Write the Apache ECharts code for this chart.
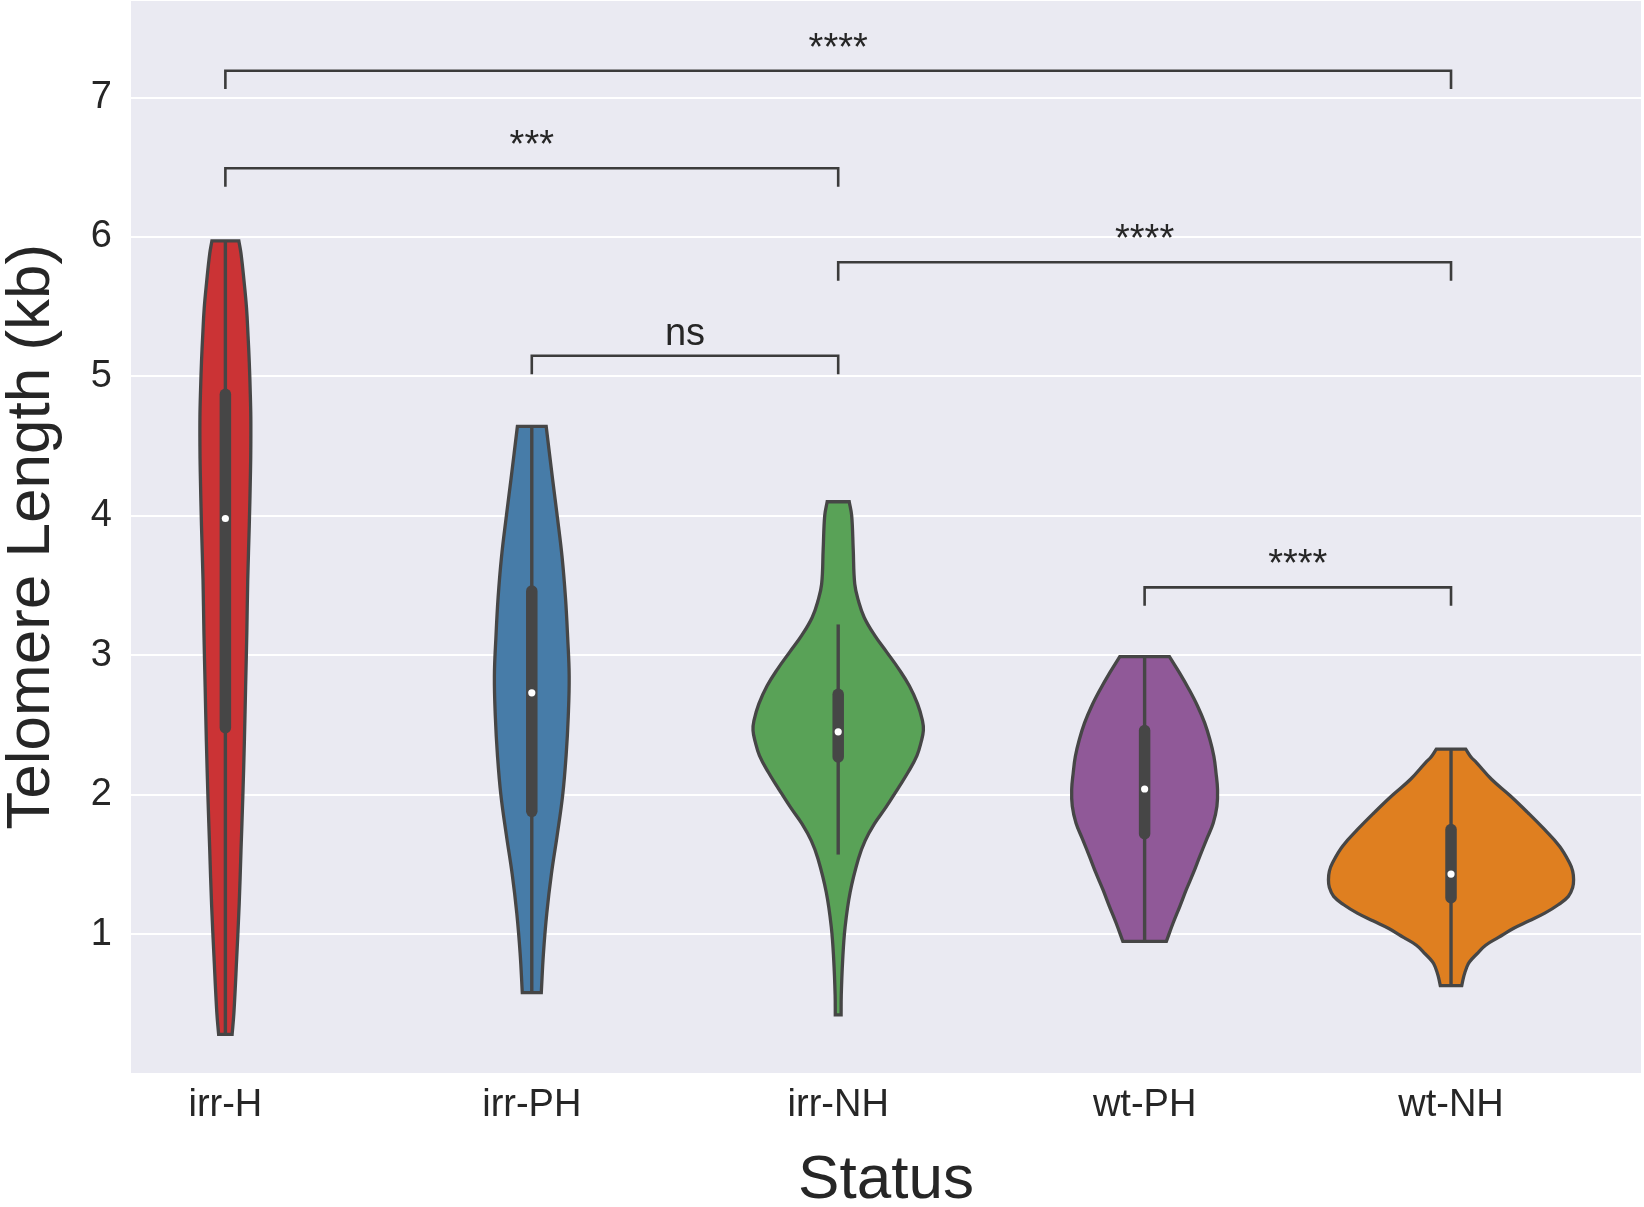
<!DOCTYPE html>
<html>
<head>
<meta charset="utf-8">
<title>Telomere Length by Status</title>
<script src="https://cdn.jsdelivr.net/npm/echarts@6/dist/echarts.min.js"></script>
<style>
  html, body { margin: 0; padding: 0; background: #ffffff; }
  #chart { width: 1644px; height: 1207px; }
</style>
</head>
<body>
<div id="chart"></div>
<script>
// ---- data ----
const categories = ['irr-H', 'irr-PH', 'irr-NH', 'wt-PH', 'wt-NH'];

// Violin outlines: [telomere length (kb), half width in category units], bottom to top
const profileIrrH = [
  [0.28, 0.022], [0.44, 0.028], [0.83, 0.037], [1.21, 0.045], [1.60, 0.051],
  [1.99, 0.057], [2.38, 0.062], [2.77, 0.066], [3.16, 0.070], [3.54, 0.073],
  [3.93, 0.078], [4.32, 0.082], [4.50, 0.083], [4.71, 0.083], [4.90, 0.081],
  [5.10, 0.078], [5.29, 0.074], [5.49, 0.069], [5.68, 0.061], [5.88, 0.051],
  [5.97, 0.044]
];
const profileIrrPH = [
  [0.58, 0.031], [0.86, 0.038], [1.15, 0.049], [1.43, 0.064], [1.71, 0.083],
  [2.00, 0.101], [2.28, 0.112], [2.56, 0.119], [2.85, 0.122], [3.13, 0.117],
  [3.41, 0.110], [3.70, 0.099], [3.98, 0.084], [4.26, 0.068], [4.64, 0.047]
];
const profileIrrNH = [
  [0.42, 0.0095], [0.56, 0.010], [0.81, 0.0145], [1.05, 0.0225], [1.30, 0.039],
  [1.54, 0.066], [1.67, 0.088], [1.79, 0.118], [1.91, 0.156], [2.04, 0.194],
  [2.16, 0.228], [2.28, 0.257], [2.38, 0.271], [2.46, 0.278], [2.53, 0.275],
  [2.65, 0.259], [2.78, 0.232], [2.90, 0.198], [3.02, 0.159], [3.145, 0.118],
  [3.27, 0.085], [3.39, 0.066], [3.51, 0.054], [3.76, 0.049], [4.00, 0.044],
  [4.10, 0.036]
];
const profileWtPH = [
  [0.947, 0.071], [1.079, 0.093], [1.199, 0.115], [1.318, 0.136], [1.438, 0.159],
  [1.557, 0.180], [1.677, 0.202], [1.797, 0.224], [1.916, 0.236], [2.036, 0.238],
  [2.156, 0.233], [2.275, 0.226], [2.395, 0.213], [2.514, 0.196], [2.634, 0.173],
  [2.754, 0.145], [2.873, 0.114], [2.99, 0.081]
];
const profileWtNH = [
  [0.63, 0.035], [0.70, 0.042], [0.76, 0.051], [0.80, 0.060], [0.857, 0.084],
  [0.92, 0.113], [0.976, 0.155], [1.04, 0.203], [1.095, 0.255], [1.15, 0.306],
  [1.21, 0.350], [1.27, 0.383], [1.333, 0.397], [1.39, 0.400], [1.452, 0.397],
  [1.51, 0.387], [1.63, 0.354], [1.75, 0.305], [1.87, 0.251], [1.99, 0.194],
  [2.11, 0.132], [2.23, 0.083], [2.27, 0.065], [2.326, 0.048]
];
const profiles = [profileIrrH, profileIrrPH, profileIrrNH, profileWtPH, profileWtNH];

// Inner box statistics (kb)
const whiskerLow  = [0.28, 0.58, 1.57, 0.947, 0.63];
const quartile1   = [2.48, 1.88, 2.27, 1.72, 1.26];
const medians     = [3.98, 2.73, 2.45, 2.04, 1.43];
const quartile3   = [4.87, 3.46, 2.72, 2.46, 1.75];
const whiskerHigh = [5.97, 4.64, 3.22, 2.99, 2.326];

// Pairwise significance annotations
const pairFrom   = [0, 0, 2, 1, 3];
const pairTo     = [4, 2, 4, 2, 4];
const pairLevel  = [7.191, 6.491, 5.817, 5.147, 3.486];
const pairLabels = ['****', '***', '****', 'ns', '****'];

const yTickValues = [1, 2, 3, 4, 5, 6, 7];

// ---- styling ----
const palette = ['#cb3335', '#477ca8', '#59a257', '#905998', '#df7f20'];
const lineGray = '#464646';
const textGray = '#262626';
const fontFamily = '"Liberation Sans", Arial, Helvetica, sans-serif';

const chart = echarts.init(document.getElementById('chart'), null, { renderer: 'canvas' });

function renderViolin(params, api) {
  const i = params.dataIndex;
  const prof = profiles[i];
  const left = prof.map(p => api.coord([i - p[1], p[0]]));
  const right = prof.slice().reverse().map(p => api.coord([i + p[1], p[0]]));
  const n = left.length;
  // corners are repeated so the flat ends stay straight when smoothed
  const pts = [left[0]].concat(left, [left[n - 1], right[0]], right, [right[n - 1]]);

  const wLo = api.coord([i, whiskerLow[i]]);
  const wHi = api.coord([i, whiskerHigh[i]]);
  const q1 = api.coord([i, quartile1[i]]);
  const q3 = api.coord([i, quartile3[i]]);
  const md = api.coord([i, medians[i]]);

  return {
    type: 'group',
    children: [
      {
        type: 'polygon',
        shape: { points: pts, smooth: 0.4 },
        style: { fill: palette[i], stroke: lineGray, lineWidth: 3.3, lineJoin: 'miter' }
      },
      {
        type: 'line',
        shape: { x1: wLo[0], y1: wLo[1], x2: wHi[0], y2: wHi[1] },
        style: { stroke: lineGray, lineWidth: 3.4 }
      },
      {
        type: 'line',
        shape: { x1: q1[0], y1: q1[1], x2: q3[0], y2: q3[1] },
        style: { stroke: lineGray, lineWidth: 11.5, lineCap: 'round' }
      },
      {
        type: 'circle',
        shape: { cx: md[0], cy: md[1], r: 3.6 },
        style: { fill: '#ffffff' }
      }
    ]
  };
}

const tickDrop = 0.132;

function renderBracket(params, api) {
  const k = params.dataIndex;
  const a = api.coord([pairFrom[k], pairLevel[k]]);
  const b = api.coord([pairTo[k], pairLevel[k]]);
  const aLow = api.coord([pairFrom[k], pairLevel[k] - tickDrop]);
  const bLow = api.coord([pairTo[k], pairLevel[k] - tickDrop]);
  return {
    type: 'group',
    children: [
      {
        type: 'polyline',
        shape: { points: [aLow, a, b, bLow] },
        style: { stroke: '#3c3c3c', lineWidth: 2.6, fill: null, lineJoin: 'miter' }
      },
      {
        type: 'text',
        style: {
          text: pairLabels[k],
          x: (a[0] + b[0]) / 2,
          y: a[1] - 21.5,
          align: 'center',
          verticalAlign: 'middle',
          font: '38px ' + fontFamily,
          fill: textGray
        }
      }
    ]
  };
}

const option = {
  animation: false,
  backgroundColor: '#ffffff',
  grid: {
    left: 131, right: 3, top: 0, bottom: 133.5,
    containLabel: false,
    outerBoundsMode: 'none',
    show: true, backgroundColor: '#eaeaf2', borderWidth: 0
  },
  xAxis: {
    type: 'value',
    min: -0.308,
    max: 4.62,
    axisLine: { show: false },
    axisTick: { show: false },
    splitLine: { show: false },
    axisLabel: {
      customValues: [0, 1, 2, 3, 4],
      formatter: v => categories[Math.round(v)],
      fontSize: 38,
      fontFamily: fontFamily,
      color: textGray,
      margin: 13
    },
    name: 'Status',
    nameLocation: 'middle',
    nameGap: 76,
    nameTextStyle: { fontSize: 62, fontFamily: fontFamily, color: textGray }
  },
  yAxis: {
    type: 'value',
    min: 0,
    max: 7.698,
    interval: 1,
    axisLine: { show: false },
    axisTick: { show: false },
    splitLine: { show: true, lineStyle: { color: '#ffffff', width: 1.8 } },
    axisLabel: {
      formatter: v => (yTickValues.indexOf(v) >= 0 ? String(v) : ''),
      fontSize: 38,
      fontFamily: fontFamily,
      color: textGray,
      margin: 19
    },
    name: 'Telomere Length (kb)',
    nameLocation: 'middle',
    nameGap: 68,
    nameTextStyle: { fontSize: 62, fontFamily: fontFamily, color: textGray }
  },
  series: [
    {
      type: 'custom',
      name: 'violins',
      renderItem: renderViolin,
      data: categories.map((c, i) => [i, medians[i]]),
      encode: { x: 0, y: 1 },
      silent: true,
      z: 2
    },
    {
      type: 'custom',
      name: 'comparisons',
      renderItem: renderBracket,
      data: pairLabels.map((l, k) => [(pairFrom[k] + pairTo[k]) / 2, pairLevel[k]]),
      encode: { x: 0, y: 1 },
      silent: true,
      z: 3
    }
  ]
};

chart.setOption(option);
</script>
</body>
</html>
